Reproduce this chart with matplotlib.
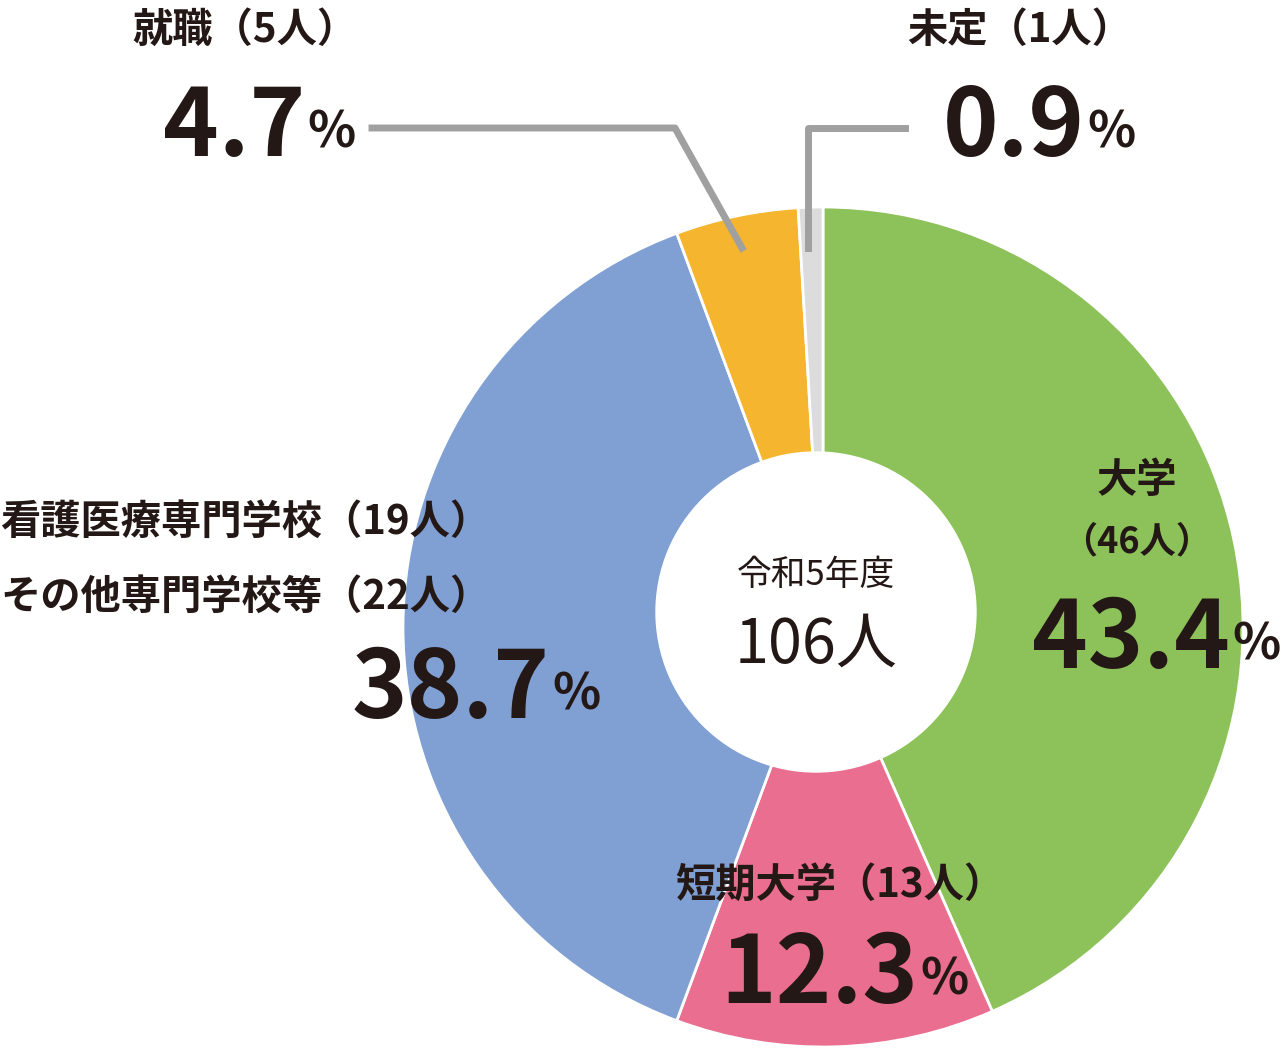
import matplotlib.pyplot as plt

plt.rcParams['font.family'] = ['Noto Sans CJK JP', 'DejaVu Sans']

labels = ['大学', '短期大学', 'その他', '就職', '未定']
counts = [46, 13, 41, 5, 1]
colors = ['#8DC25A', '#E96E8F', '#809FD3', '#F5B52E', '#DCDCDC']
TXT = '#231815'

H = 1048
fig = plt.figure(figsize=(12.8, 10.48), dpi=100)
ax = fig.add_axes([0, 0, 1, 1])
ax.set_xlim(0, 1280)
ax.set_ylim(0, H)
ax.set_aspect('equal')
ax.axis('off')

ax.pie(counts, colors=colors, startangle=90, counterclock=False,
       center=(823, H - 627), radius=420,
       wedgeprops=dict(edgecolor='white', linewidth=2))
ax.add_patch(plt.Circle((816, H - 612), 160, color='white', zorder=3))
ax.set_xlim(0, 1280)
ax.set_ylim(0, H)

def t(x, y, s, size, ha='center', **kw):
    ax.text(x, H - y, s, fontsize=size, ha=ha, va='center', color=TXT,
            fontweight='bold', zorder=5, **kw)

def pct(xr, y, num):
    t(xr, y, num, 68, ha='right')
    t(xr + 2, y + 5, '%', 36, ha='left')

# leader lines
g = '#A0A0A0'
ax.plot([372, 675, 742], [H - 128, H - 128, H - 248], color=g, lw=5, zorder=4)
ax.plot([905, 808, 808], [H - 128, H - 128, H - 248], color=g, lw=5, zorder=4)

t(245, 30, '就職（5人）', 29)
pct(305, 128, '4.7')
t(1020, 30, '未定（1人）', 29)
pct(1085, 128, '0.9')
t(1137, 480, '大学', 29)
t(1137, 542, '（46人）', 26)
pct(1230, 640, '43.4')
t(0, 522, '看護医療専門学校（19人）', 29, ha='left')
t(0, 597, 'その他専門学校等（22人）', 29, ha='left')
pct(550, 690, '38.7')
t(840, 885, '短期大学（13人）', 29)
pct(918, 975, '12.3')

ax.text(816, H - 575, '令和5年度', fontsize=25, ha='center', va='center', color=TXT, zorder=5)
ax.text(816, H - 645, '106人', fontsize=44, ha='center', va='center', color=TXT, zorder=5)

fig.savefig('out.png', dpi=100)
